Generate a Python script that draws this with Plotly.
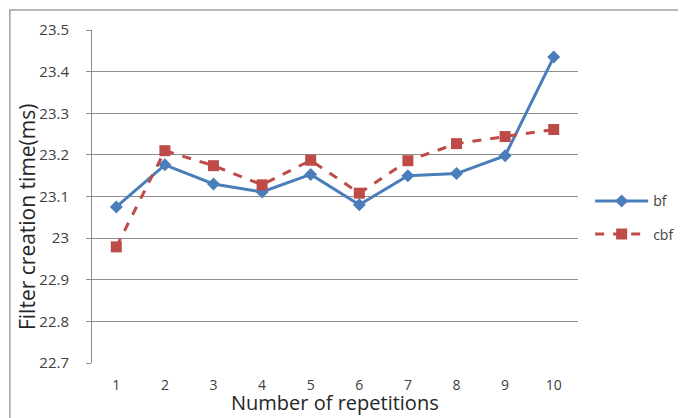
import plotly.graph_objects as go

repetitions = ["1", "2", "3", "4", "5", "6", "7", "8", "9", "10"]
bf = [23.075, 23.176, 23.130, 23.111, 23.153, 23.080, 23.150, 23.155, 23.198, 23.435]
cbf = [22.979, 23.210, 23.174, 23.128, 23.187, 23.108, 23.186, 23.227, 23.244, 23.261]
y_ticks = [22.7, 22.8, 22.9, 23.0, 23.1, 23.2, 23.3, 23.4, 23.5]
y_tick_labels = ["22.7", "22.8", "22.9", "23", "23.1", "23.2", "23.3", "23.4", "23.5"]

FONT = "Open Sans"

fig = go.Figure()
fig.add_trace(go.Scatter(
    x=repetitions, y=bf, name="bf", mode="lines+markers",
    line=dict(color="#4A7EBB", width=3),
    marker=dict(symbol="diamond", size=10, color="#4A7EBB"),
    legendgroup="a",
))
fig.add_trace(go.Scatter(
    x=repetitions, y=cbf, name="cbf", mode="lines+markers",
    line=dict(color="#BE4B48", width=3, dash="dash"),
    marker=dict(symbol="square", size=11, color="#BE4B48"),
    legendgroup="b",
))

# page body has an 8px margin, so the figure is sized to fit the window
fig.update_layout(
    width=678, height=410,
    margin=dict(l=84, r=108, t=22, b=55, autoexpand=False),
    paper_bgcolor="white", plot_bgcolor="white",
    font=dict(family=FONT, color="#404040"),
    showlegend=True,
    legend=dict(x=1.025, y=0.436, xanchor="left", yanchor="middle",
                font=dict(size=14, color="#404040"), tracegroupgap=12,
                itemwidth=53),
    xaxis=dict(
        type="category", range=[-0.5, 9.5],
        showgrid=False, showline=False, zeroline=False,
        ticks="", tickfont=dict(size=14, color="#404040"),
        ticklabelstandoff=12,
    ),
    yaxis=dict(
        range=[22.7, 23.5], tickvals=y_ticks, ticktext=y_tick_labels,
        showgrid=True, gridcolor="#8C8C8C", gridwidth=1,
        showline=True, linecolor="#8C8C8C", linewidth=1,
        ticks="outside", ticklen=5, tickcolor="#8C8C8C",
        zeroline=False, ticklabelstandoff=14,
        tickfont=dict(size=15, color="#404040"),
    ),
    annotations=[
        dict(text="Number of repetitions", xref="paper", yref="paper",
             x=0.5, y=-0.163, xanchor="center", yanchor="bottom", borderpad=0,
             showarrow=False, font=dict(size=20, color="#262626")),
        dict(text="Filter creation time(ms)", xref="paper", yref="paper",
             x=-0.134, y=0.438, xanchor="center", yanchor="middle", textangle=-90,
             showarrow=False, font=dict(size=21, color="#262626")),
    ],
)

fig.add_shape(type="rect", xref="paper", yref="paper",
              x0=-0.169, x1=1.3, y0=-0.3, y1=1.060,
              line=dict(color="#A0A0A0", width=1.5), layer="below")

fig.write_html("out.html")
